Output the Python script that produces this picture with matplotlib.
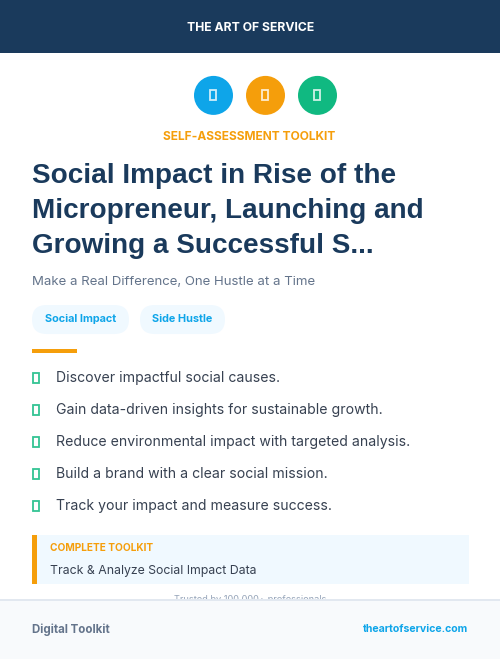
import matplotlib
matplotlib.use("Agg")
import matplotlib.pyplot as plt
from matplotlib.patches import Rectangle, Circle, FancyBboxPatch

plt.rcParams['font.family'] = ['Inter', 'DejaVu Sans']

NAVY = '#1a3a5c'; BLUE = '#0ea5e9'; ORANGE = '#f59e0b'; GREEN = '#10b981'
BODY = '#374151'; MUTED = '#64748b'; TINT = '#f0f9ff'; FOOT = '#f8fafc'; LINE = '#e2e8f0'

brand = 'THE ART OF SERVICE'
kicker = 'SELF-ASSESSMENT TOOLKIT'
title_lines = ['Social Impact in Rise of the', 'Micropreneur, Launching and', 'Growing a Successful S...']
title_y = [183, 218, 253]
subtitle = 'Make a Real Difference, One Hustle at a Time'
icon_x = [213.5, 265.5, 317.5]
icon_colors = [BLUE, ORANGE, GREEN]
tags = ['Social Impact', 'Side Hustle']
tag_left = [32, 140]
tag_right = [129, 225]
bullets = ['Discover impactful social causes.',
           'Gain data-driven insights for sustainable growth.',
           'Reduce environmental impact with targeted analysis.',
           'Build a brand with a clear social mission.',
           'Track your impact and measure success.']
bullet_y = [382, 414, 446, 478, 510]
box_label = 'COMPLETE TOOLKIT'
box_text = 'Track & Analyze Social Impact Data'
trusted = 'Trusted by 100,000+ professionals'
foot_left = 'Digital Toolkit'
foot_right = 'theartofservice.com'

fig = plt.figure(figsize=(5.0, 6.59), dpi=100)
ax = fig.add_axes([0, 0, 1, 1])
ax.set_xlim(0, 500); ax.set_ylim(659, 0); ax.axis('off')

def rect(x, y, w, h, c, z=1):
    ax.add_patch(Rectangle((x, y), w, h, fc=c, ec='none', zorder=z))

def txt(x, y, s, size, c, weight='normal', ha='left', z=5, family=None):
    t = ax.text(x, y, s, fontsize=size, color=c, fontweight=weight, ha=ha, va='baseline', zorder=z)
    if family:
        t.set_family(family)
    return t

HELV = ['Liberation Sans', 'DejaVu Sans']

# header
rect(0, 0, 500, 53, NAVY)
txt(250.5, 31, brand, 8.8, 'white', 'bold', 'center')

# icons
for x, c in zip(icon_x, icon_colors):
    ax.add_patch(Circle((x, 95.4), 19.5, fc=c, ec='none', zorder=2))
    ax.add_patch(Rectangle((x - 3.3, 90), 6, 10, fc='none', ec='white', lw=1.3, alpha=.8, zorder=3))

txt(249.5, 140, kicker, 8.6, ORANGE, 'bold', 'center')

for s, y in zip(title_lines, title_y):
    txt(32, y, s, 20.1, NAVY, 'bold', family=HELV)

txt(32, 285, subtitle, 9.5, MUTED)

# tags
for s, l, r in zip(tags, tag_left, tag_right):
    ax.add_patch(FancyBboxPatch((l + 14.5, 305 + 14.5), r - l - 29, 0.01,
                                boxstyle='round,pad=14.5,rounding_size=14.5', fc=TINT, ec='none', zorder=2))
    txt((l + r) / 2, 322, s, 7.85, BLUE, 'bold', 'center')

rect(32, 349, 45, 4, ORANGE)

# bullets
for s, y in zip(bullets, bullet_y):
    ax.add_patch(Rectangle((33, y - 9.5), 6, 10, fc='none', ec=GREEN, lw=1.3, alpha=.85, zorder=3))
    txt(56, y, s, 10.12, BODY)

# call-out
rect(32, 535, 437, 49, TINT)
rect(32, 535, 5, 49, ORANGE, 2)
txt(50, 551, box_label, 7.25, ORANGE, 'bold')
txt(50, 574, box_text, 8.85, BODY)

txt(250, 602, trusted, 6.65, '#94a3b8', 'normal', 'center', z=0.5)

# footer
rect(0, 600, 500, 59, FOOT, 2)
rect(0, 599, 500, 2, LINE, 3)
txt(32, 633, foot_left, 8.3, MUTED, 'bold')
txt(468.5, 632, foot_right, 7.6, BLUE, 'bold', 'right')

fig.savefig('out.png', dpi=100)
